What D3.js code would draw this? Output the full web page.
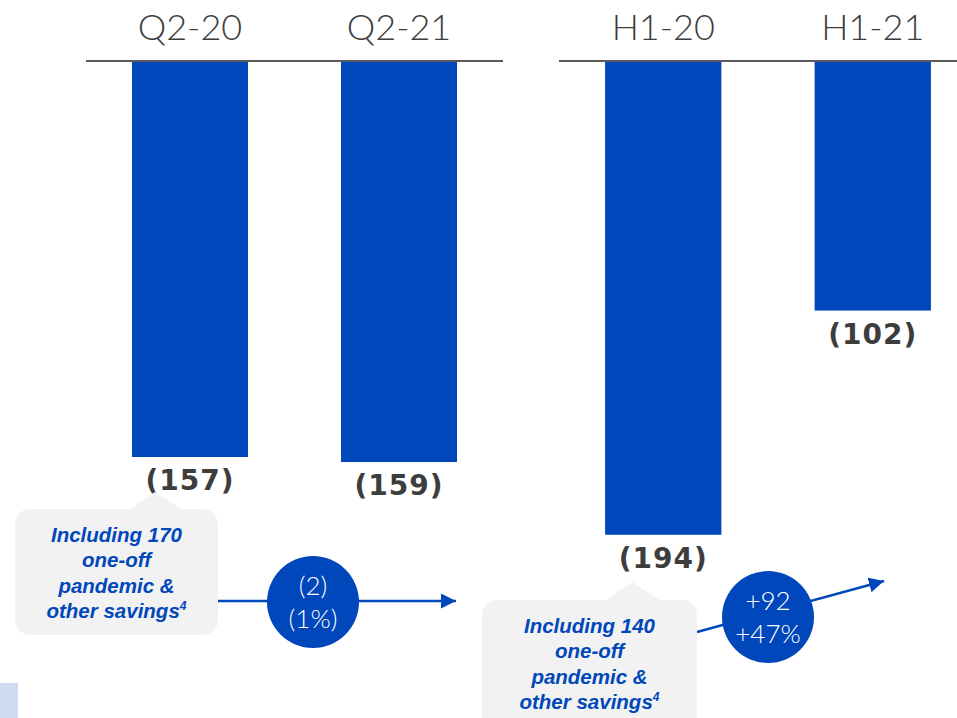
<!DOCTYPE html>
<html>
<head>
<meta charset="utf-8">
<script src="https://cdn.jsdelivr.net/npm/d3@7"></script>
<style>
  html, body { margin: 0; padding: 0; background: #fff; }
  svg { display: block; }
</style>
</head>
<body>
<svg id="chart" width="957" height="718"></svg>
<script>
// Quarter and half-year results (negative values, shown in brackets)
const quarterCats = ["Q2-20", "Q2-21"];
const quarterVals = [-157, -159];
const halfCats = ["H1-20", "H1-21"];
const halfVals = [-194, -102];

// Change bubbles between the periods
const quarterChange = ["(2)", "(1%)"];
const halfChange = ["+92", "+47%"];

// Callout notes under the prior-year bars
const quarterNote = ["Including 170", "one-off", "pandemic &", "other savings"];
const halfNote = ["Including 140", "one-off", "pandemic &", "other savings"];
const noteMark = "4";

const BLUE = "#0047BB";
const DARK = "#3d3d3d";
const GREY_BOX = "#f2f2f2";

const svg = d3.select("#chart");

// Faint accent block at the lower-left corner
svg.append("rect").attr("x", 0).attr("y", 683).attr("width", 18).attr("height", 35).attr("fill", "#cddcf0");

const defs = svg.append("defs");
defs.append("marker")
  .attr("id", "arrowHead")
  .attr("viewBox", "0 0 10 10")
  .attr("refX", 10).attr("refY", 5)
  .attr("markerWidth", 6).attr("markerHeight", 6)
  .attr("markerUnits", "strokeWidth")
  .attr("orient", "auto")
  .append("path").attr("d", "M0,0 L10,5 L0,10 Z").attr("fill", BLUE);

const zeroY = 62;

function panel(cats, vals, xRange, pxPerUnit) {
  const x = d3.scaleBand().domain(cats).range(xRange).paddingInner(0.445).paddingOuter(0.22);
  const y = d3.scaleLinear().domain([0, -200]).range([zeroY, zeroY + 200 * pxPerUnit]);
  const g = svg.append("g");

  // Category labels above the baseline
  g.selectAll("text.cat").data(cats).join("text")
    .attr("class", "cat")
    .attr("x", d => x(d) + x.bandwidth() / 2)
    .attr("y", 40)
    .attr("text-anchor", "middle")
    .attr("font-family", "Lato, 'Open Sans', sans-serif")
    .attr("font-weight", 300)
    .attr("font-size", 36)
    .attr("fill", DARK)
    .text(d => d);

  // Bars hang down from zero
  const data = cats.map((c, i) => ({ c, v: vals[i] }));
  g.selectAll("rect.bar").data(data).join("rect")
    .attr("class", "bar")
    .attr("x", d => x(d.c))
    .attr("width", x.bandwidth())
    .attr("y", y(0))
    .attr("height", d => y(d.v) - y(0))
    .attr("fill", BLUE);

  // Zero baseline
  g.append("line")
    .attr("x1", xRange[0]).attr("x2", xRange[1])
    .attr("y1", zeroY - 1).attr("y2", zeroY - 1)
    .attr("stroke", "#5a5a5a").attr("stroke-width", 2);

  // Value labels under each bar
  g.selectAll("text.val").data(data).join("text")
    .attr("class", "val")
    .attr("x", d => x(d.c) + x.bandwidth() / 2)
    .attr("y", d => y(d.v) + 33)
    .attr("text-anchor", "middle")
    .attr("font-family", "'DejaVu Sans', sans-serif")
    .attr("font-weight", 700)
    .attr("font-size", 28)
    .attr("letter-spacing", 1)
    .attr("fill", DARK)
    .text(d => "(" + Math.abs(d.v) + ")");

  return { x, y };
}

const left = panel(quarterCats, quarterVals, [86, 503], 2.516);
const right = panel(halfCats, halfVals, [559, 977], 2.437);

// Speech-bubble note with a pointer towards the bar label above
function note(lines, box, tipX, tipY, baseHalf) {
  const g = svg.append("g");
  const cx = box.x + box.w / 2;
  g.append("rect")
    .attr("x", box.x).attr("y", box.y).attr("width", box.w).attr("height", box.h)
    .attr("rx", 15).attr("ry", 15).attr("fill", GREY_BOX);
  g.append("path")
    .attr("d", `M${tipX - baseHalf - 2},${box.y + 1} L${tipX},${tipY} L${tipX + baseHalf + 4},${box.y + 1} Z`)
    .attr("fill", GREY_BOX);
  const t = g.append("text")
    .attr("text-anchor", "middle")
    .attr("font-family", "'Liberation Sans', Arial, sans-serif")
    .attr("font-weight", 700)
    .attr("font-style", "italic")
    .attr("font-size", 20.5)
    .attr("fill", BLUE);
  lines.forEach((ln, i) => {
    t.append("tspan").attr("x", cx).attr("y", box.textY + i * 25.3).text(ln);
    if (i === lines.length - 1) {
      t.append("tspan").attr("dy", -8).attr("font-size", 12).text(noteMark);
    }
  });
}

// Change arrow with a bubble showing the difference
function change(p0, p1, c, lines) {
  const g = svg.append("g");
  g.append("line")
    .attr("x1", p0[0]).attr("y1", p0[1]).attr("x2", p1[0]).attr("y2", p1[1])
    .attr("stroke", BLUE).attr("stroke-width", 2.5)
    .attr("marker-end", "url(#arrowHead)");
  g.append("circle").attr("cx", c[0]).attr("cy", c[1]).attr("r", 46).attr("fill", BLUE);
  g.selectAll("text").data(lines).join("text")
    .attr("x", c[0])
    .attr("y", (d, i) => c[1] - 7 + i * 33)
    .attr("text-anchor", "middle")
    .attr("font-family", "Lato, 'Open Sans', sans-serif")
    .attr("font-weight", 300)
    .attr("font-size", 26)
    .attr("fill", "#fff")
    .text(d => d);
}

const q0 = left.x(quarterCats[0]) + left.x.bandwidth() / 2;
const h0 = right.x(halfCats[0]) + right.x.bandwidth() / 2;

change([218, 601], [456, 601], [313, 602], quarterChange);
change([697, 632], [884, 581], [768, 617], halfChange);

note(quarterNote, { x: 15, y: 509, w: 203, h: 126, textY: 542 }, q0 - 35, 492, 24);
note(halfNote, { x: 482, y: 600, w: 215, h: 140, textY: 633 }, h0 - 31, 582, 25);
</script>
</body>
</html>
